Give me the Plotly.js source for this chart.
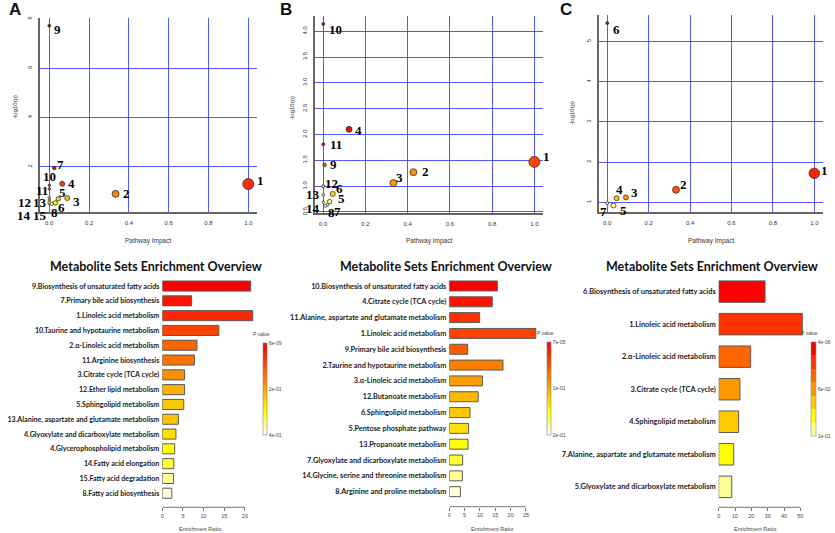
<!DOCTYPE html>
<html>
<head>
<meta charset="utf-8">
<script src="https://cdn.plot.ly/plotly-3.0.1.min.js"></script>
<style>html,body{margin:0;padding:0;background:#fff;}#chart{width:835px;height:533px;}</style>
</head>
<body>
<div id="chart"></div>
<script>
// ---------- DATA: pathway impact plots ----------
const pathLabelsA = ['1','2','3','4','5','6','7','8','9','10','11','12','13','14','15'];
const impactA = [1.0, 0.333, 0.09, 0.065, 0.045, 0.03, 0.025, 0.012, 0, 0, 0, 0, 0, 0, 0];
const logpA   = [1.30, 0.90, 0.73, 1.31, 0.70, 0.53, 1.95, 0.50, 7.73, 1.25, 1.10, 0.75, 0.65, 0.50, 0.55];

const pathLabelsB = ['1','2','3','4','5','6','7','8','9','10','11','12','13','14'];
const impactB = [1.0, 0.427, 0.332, 0.122, 0.03, 0.045, 0.02, 0.01, 0.006, 0, 0, 0, 0, 0];
const logpB   = [1.47, 1.27, 1.06, 2.10, 0.70, 0.85, 0.64, 0.62, 1.41, 4.14, 1.81, 1.00, 0.83, 0.69];

const pathLabelsC = ['1','2','3','4','5','6','7'];
const impactC = [1.0, 0.332, 0.09, 0.045, 0.03, 0, 0];
const logpC   = [1.72, 1.31, 1.12, 1.10, 0.92, 5.46, 0.98];

const impactTicks = [0, 0.2, 0.4, 0.6, 0.8, 1.0];
const impactTickText = ['0.0','0.2','0.4','0.6','0.8','1.0'];
const logpTicksA = [2, 4, 6, 8];
const logpTicksB = [0.5, 1.0, 1.5, 2.0, 2.5, 3.0, 3.5, 4.0];
const logpTickTextB = ['0.5','1.0','1.5','2.0','2.5','3.0','3.5','4.0'];
const logpTicksC = [1, 2, 3, 4, 5];

// ---------- DATA: enrichment overview ----------
const setsA = ['9.Biosynthesis of unsaturated fatty acids','7.Primary bile acid biosynthesis','1.Linoleic acid metabolism',
  '10.Taurine and hypotaurine metabolism','2.α-Linoleic acid metabolism','11.Arginine biosynthesis','3.Citrate cycle (TCA cycle)',
  '12.Ether lipid metabolism','5.Sphingolipid metabolism','13.Alanine, aspartate and glutamate metabolism',
  '4.Glyoxylate and dicarboxylate metabolism','4.Glycerophospholipid metabolism','14.Fatty acid elongation',
  '15.Fatty acid degradation','8.Fatty acid biosynthesis'];
const ratioA = [21.4, 7.1, 21.9, 13.7, 8.4, 7.75, 5.4, 5.4, 5.2, 3.9, 3.3, 3.0, 2.8, 2.7, 2.3];

const setsB = ['10.Biosynthesis of unsaturated fatty acids','4.Citrate cycle (TCA cycle)','11.Alanine, aspartate and glutamate metabolism',
  '1.Linoleic acid metabolism','9.Primary bile acid biosynthesis','2.Taurine and hypotaurine metabolism','3.α-Linoleic acid metabolism',
  '12.Butanoate metabolism','6.Sphingolipid metabolism','5.Pentose phosphate pathway','13.Propanoate metabolism',
  '7.Glyoxylate and dicarboxylate metabolism','14.Glycine, serine and threonine metabolism','8.Arginine and proline metabolism'];
const ratioB = [15.65, 14.0, 9.9, 28.2, 6.0, 17.5, 10.8, 9.4, 6.75, 6.3, 6.1, 4.35, 4.25, 3.6];

const setsC = ['6.Biosynthesis of unsaturated fatty acids','1.Linoleic acid metabolism','2.α-Linoleic acid metabolism',
  '3.Citrate cycle (TCA cycle)','4.Sphingolipid metabolism','7.Alanine, aspartate and glutamate metabolism',
  '5.Glyoxylate and dicarboxylate metabolism'];
const ratioC = [28.4, 51.2, 19.6, 13.0, 12.2, 9.2, 8.0];

const ratioTicksA = [0, 5, 10, 15, 20];
const ratioTicksB = [0, 5, 10, 15, 20, 25];
const ratioTicksC = [0, 10, 20, 30, 40, 50];

const pTickTextA = ['4e-01','2e-01','6e-09'];
const pTickTextB = ['2e-01','1e-01','7e-05'];
const pTickTextC = ['1e-01','6e-02','4e-06'];

// ---------- STYLES ----------
const W = 835, H = 533;
const px = v => v / W;
const py = v => 1 - v / H;

const ptColorsA = ['#ff2a00','#ff8000','#ffc000','#f04000','#ffd700','#ffff00','#e00000','#fffff0','#c00000','#d03000','#e06000','#ffe000','#fff000','#ffffa0','#ffffc0'];
const ptSizesA  = [11, 7, 5, 5, 4.5, 4.5, 3.5, 3.5, 3, 2.5, 2.5, 2.5, 2.5, 2.5, 2.5];
const shiftA = [[12,4],[11,0],[9,-3],[9,0],[4,6],[6,-5],[6,4],[3,-9],[8,-4],[0,8.5],[-7,-2],[-25,-4.5],[-9,-2],[-25,-12],[-9,-13.5]];

const ptColorsB = ['#ff4000','#ff8c1a','#ff9900','#ee1100','#ffff66','#ffdd00','#ffffd0','#ffffe8','#e65c00','#c00000','#dd1010','#ffee00','#ffff80','#ffffb0'];
const ptSizesB  = [11, 7, 7, 6, 4.5, 5, 3, 3, 3.5, 3, 3, 3, 2.5, 2.5];
const shiftB = [[12,5],[12,1],[6,6],[9,-1],[12,3],[7,5],[10,-7],[6,-7],[9,0],[12,-5.5],[13,0],[8,3],[-10,0],[-10,-6]];

const ptColorsC = ['#ff2200','#ff5500','#ff9900','#ffcc00','#ffff99','#cc0000','#ffffcc'];
const ptSizesC  = [10.5, 7, 5, 5, 5, 3, 3];
const shiftC = [[10,3],[7,5],[9,5],[3,9],[10,-5.5],[9,-6],[-4,-8]];

const barColorsA = ['#f80000','#fb1400','#fa2800','#fb4400','#fc6400','#fc7400','#fd9000','#fdb000','#fec800','#ffc200','#ffe000','#ffff00','#ffff30','#ffff99','#ffffdd'];
const barColorsB = ['#fa0000','#fb1400','#fc3000','#fc4400','#fd5a00','#fd8000','#fe9c00','#feb800','#ffc800','#ffe000','#ffff00','#ffff30','#ffff90','#ffffd8'];
const barColorsC = ['#ff0000','#ff3300','#ff6600','#ff9900','#ffcc00','#ffff00','#ffff99'];

const scaleA = [[0,'#ffffff'],[0.1,'#ffff90'],[0.25,'#ffff00'],[0.4,'#ffcc00'],[0.5,'#ffa000'],[0.7,'#ff6000'],[0.85,'#ff2000'],[1,'#ff0000']];
const scaleB = [[0,'#ffffff'],[0.1,'#ffff90'],[0.25,'#ffff00'],[0.4,'#ffcc00'],[0.55,'#ff9900'],[0.7,'#ff6000'],[0.85,'#ff2800'],[1,'#ff0000']];
function stepScale(cols){ // cols from bottom to top
  const n = cols.length, s = [];
  cols.forEach((c,i)=>{ s.push([i/n, c]); s.push([(i+1)/n, c]); });
  return s;
}
const scaleC = stepScale(barColorsC.slice().reverse());

const GRID = 'rgba(45,45,255,0.8)';
const tickFont = {family:'Liberation Sans', size:6, color:'#333'};
const labelFont = {family:'Liberation Serif', size:13, color:'#000', weight:'bold'};

const traces = [];
const annotations = [];
const shapes = [];
const layout = {
  width: W, height: H, margin: {l:0, r:0, t:0, b:0},
  paper_bgcolor: '#fff', plot_bgcolor: '#fff', showlegend: false,
  font: {family:'Liberation Sans'}
};

// ---------- pathway impact panels ----------
function scatterPanel(n, impact, logp, labels, colors, sizes, shifts, dom, xr, yr, yt, ytText, letter, letterPos, ylabPos, xlabPos){
  const xa = 'xaxis' + (n===1?'':n), ya = 'yaxis' + (n===1?'':n);
  const xr_ = 'x' + (n===1?'':n), yr_ = 'y' + (n===1?'':n);
  traces.push({type:'scatter', mode:'markers', x: impact, y: logp, xaxis: xr_, yaxis: yr_, cliponaxis:false,
    marker:{size: sizes, color: colors, opacity:1, line:{color:'#333', width:0.8}}, hoverinfo:'skip'});
  layout[xa] = {domain:[px(dom[0]), px(dom[1])], range: xr, tickvals: impactTicks, ticktext: impactTickText,
    showgrid:true, gridcolor:GRID, gridwidth:1, zeroline:false, showline:true, linecolor:'#666', linewidth:1.5,
    ticks:'outside', ticklen:4, tickcolor:'rgba(0,0,0,0)', tickfont: tickFont, anchor: yr_, fixedrange:true};
  layout[ya] = {domain:[py(dom[3]), py(dom[2])], range: yr, tickvals: yt, ticktext: ytText,
    showgrid:true, gridcolor:GRID, gridwidth:1, zeroline:false, showline:true, linecolor:'#666', linewidth:2,
    ticks:'outside', ticklen:4, tickcolor:'rgba(0,0,0,0)', tickangle:-90, tickfont: tickFont, anchor: xr_, fixedrange:true};
  labels.forEach((t,i)=>{
    annotations.push({xref:xr_, yref:yr_, x: impact[i], y: logp[i], text: t, showarrow:false,
      xshift: shifts[i][0], yshift: shifts[i][1], font: labelFont, xanchor:'center', yanchor:'middle'});
  });
  annotations.push({xref:'paper', yref:'paper', x: px(letterPos[0]), y: py(letterPos[1]), text: letter, showarrow:false,
    xanchor:'center', yanchor:'middle', font:{family:'Liberation Sans', size:17, weight:'bold', color:'#111'}});
  annotations.push({xref:'paper', yref:'paper', x: px(ylabPos[0]), y: py(ylabPos[1]), text:'-log10(p)', textangle:-90, showarrow:false,
    xanchor:'center', yanchor:'middle', font:{family:'Liberation Sans', size:6, color:'#333'}});
  annotations.push({xref:'paper', yref:'paper', x: px(xlabPos[0]), y: py(xlabPos[1]), text:'Pathway Impact', showarrow:false,
    xanchor:'center', yanchor:'middle', font:{family:'Liberation Sans', size:6.5, color:'#333'}});
}

scatterPanel(1, impactA, logpA, pathLabelsA, ptColorsA, ptSizesA, shiftA, [40, 257, 18, 212],
  [-0.0467, 1.0437], [0.164, 8.04], logpTicksA, logpTicksA.map(String), 'A', [15, 9], [15, 107], [148, 241]);
scatterPanel(2, impactB, logpB, pathLabelsB, ptColorsB, ptSizesB, shiftB, [315, 543, 15.7, 213],
  [-0.0393, 1.041], [0.48, 4.30], logpTicksB, logpTickTextB, 'B', [286, 9], [292, 108], [429, 241]);
scatterPanel(3, impactC, logpC, pathLabelsC, ptColorsC, ptSizesC, shiftC, [599, 823, 15, 212.3],
  [-0.04, 1.042], [0.75, 5.66], logpTicksC, logpTicksC.map(String), 'C', [566, 9], [572, 113], [711, 241]);

// ---------- enrichment overview panels ----------
function barPanel(n, sets, ratio, colors, width, dom, xr, yr, ticks, scale, cb, pText, titleX, ratioLabX, catSize){
  const xa = 'xaxis' + n, ya = 'yaxis' + n, xr_ = 'x' + n, yr_ = 'y' + n;
  traces.push({type:'bar', orientation:'h', x: ratio, y: sets, xaxis: xr_, yaxis: yr_, width: width,
    marker:{color: colors, line:{color:'#5a5a5a', width:1}}, hoverinfo:'skip'});
  // colour key
  traces.push({type:'scatter', mode:'markers', x:[ratio[0]], y:[sets[0]], xaxis: xr_, yaxis: yr_, hoverinfo:'skip',
    marker:{size:1, opacity:0, color:[0], cmin:0, cmax:1, colorscale: scale, showscale:true,
      colorbar:{x: px(cb[0]), xanchor:'left', y: py(cb[2]), yanchor:'top', len: cb[3], lenmode:'pixels',
        thickness: cb[1], thicknessmode:'pixels', xpad:0, ypad:0, outlinewidth:0.6, outlinecolor:'#888',
        tickvals:[0, 0.5, 1], ticktext: pText, ticks:'', tickfont:{family:'Liberation Sans', size:5, color:'#444'}}}});
  layout[xa] = {domain:[px(dom[0]), px(dom[1])], range: xr, tickvals: ticks, showgrid:false, zeroline:false, showline:false,
    ticks:'outside', ticklen:3, tickwidth:0.8, tickcolor:'#555', tickfont:{family:'Liberation Sans', size:5.5, color:'#444'},
    anchor: yr_, fixedrange:true};
  layout[ya] = {domain:[py(dom[3]), py(dom[2])], type:'category', range: yr, showgrid:false, zeroline:false, showline:false,
    ticks:'', tickfont:{family:'Lato', size: catSize, color:'#1a1a1a', weight:'bold'}, anchor: xr_, fixedrange:true, ticklabelstandoff:2};
  shapes.push({type:'line', xref: xr_, yref: yr_ + ' domain', x0: ticks[0], x1: ticks[ticks.length-1], y0:0, y1:0,
    line:{color:'#555', width:0.8}});
  annotations.push({xref:'paper', yref:'paper', x: px(titleX), y: py(266), text:'Metabolite Sets Enrichment Overview', showarrow:false,
    xanchor:'center', yanchor:'middle', font:{family:'Lato', size:12.5, weight:'bold', color:'#111'}});
  annotations.push({xref:'paper', yref:'paper', x: px(ratioLabX), y: py(529), text:'Enrichment Ratio', showarrow:false,
    xanchor:'center', yanchor:'middle', font:{family:'Liberation Sans', size:5.5, color:'#444'}});
  annotations.push({xref:'paper', yref:'paper', x: px(cb[0] - 2), y: py(cb[2] - 9), text:'P value', showarrow:false,
    xanchor:'center', yanchor:'middle', font:{family:'Liberation Sans', size:5, color:'#444'}});
}

barPanel(4, setsA, ratioA, barColorsA, 0.68, [162.3, 262, 276, 507.3], [0, 24.14], [14.95, -0.68], ratioTicksA,
  scaleA, [263, 4, 343, 92], pTickTextA, 156, 200, 7.1);
barPanel(5, setsB, ratioB, barColorsB, 0.63, [449.3, 545, 276, 506.7], [0, 31.2], [13.95, -0.63], ratioTicksB,
  scaleB, [547, 4, 342, 93], pTickTextB, 446, 492, 7.3);
barPanel(6, setsC, ratioC, barColorsC, 0.66, [718.7, 808, 276, 507.3], [0, 54.7], [6.63, -0.48], ratioTicksC,
  scaleC, [811, 5, 342, 94], pTickTextC, 712, 755, 7.4);

layout.annotations = annotations;
layout.shapes = shapes;

Plotly.newPlot('chart', traces, layout, {staticPlot:true, displayModeBar:false});
</script>
</body>
</html>
